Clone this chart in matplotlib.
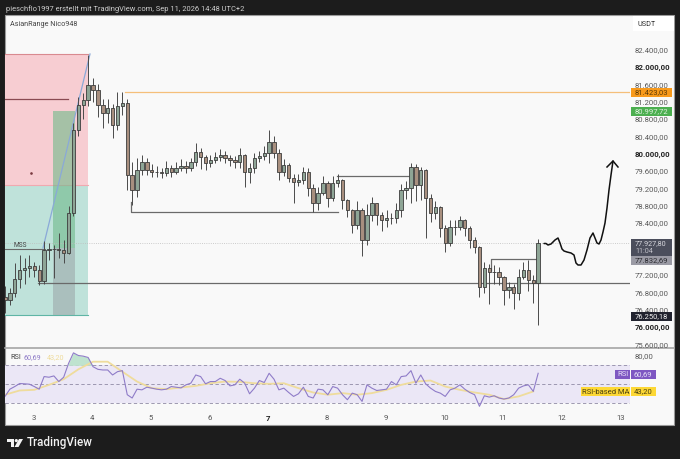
#!/usr/bin/env python3
import numpy as np
import matplotlib
matplotlib.use("Agg")
import matplotlib.pyplot as plt
from matplotlib.patches import Rectangle, Circle, Polygon

plt.rcParams['font.family'] = ['Roboto', 'DejaVu Sans']

W, H = 680, 459

# ── Data ──────────────────────────────────────────────────────
closes = [
    76620, 76780, 77110, 77310, 77360, 77410, 77310, 77060, 77780, 77800,
    77800, 77780, 77710, 78630, 80550, 81120, 81240, 81580, 81470, 81120,
    80940, 81050, 80660, 81100, 81170, 79510, 79160, 79620, 79810, 79620,
    79580, 79580, 79550, 79670, 79580, 79670, 79720, 79670, 79810, 80040,
    79920, 79780, 79850, 79920, 79970, 79900, 79850, 79810, 79970, 79580,
    79670, 79900, 79950, 80020, 80270, 80020, 79580, 79740, 79440, 79350,
    79390, 79580, 79210, 78860, 79090, 79320, 78980, 79320, 79390, 78930,
    78700, 78350, 78700, 78010, 78580, 78860, 78580, 78470, 78510, 78510,
    78700, 79160, 79210, 79690, 79280, 79620, 78980, 78630, 78770, 78280,
    77940, 78310, 78310, 78470, 78280, 78010, 77850, 76920, 77360, 77270,
    77270, 77150, 76850, 76920, 76780, 77150, 77310, 77080, 77010, 77940,
]
highs = [
    76950, 76900, 77480, 77650, 77600, 77650, 77500, 77420, 77990, 77930,
    77900, 78170, 78000, 78800, 80700, 81300, 81400, 82280, 81750, 81600,
    81250, 81260, 81150, 81420, 81430, 81260, 79800, 79900, 79980, 79900,
    79760, 79720, 79680, 79820, 79740, 79800, 79880, 79820, 79900, 80240,
    80120, 79980, 79980, 80030, 80110, 80050, 79980, 79940, 80120, 79990,
    79790, 80010, 80060, 80180, 80550, 80400, 80100, 79880, 79780, 79540,
    79520, 79700, 79660, 79290, 79230, 79480, 79380, 79480, 79540, 79420,
    78950, 78720, 78900, 78750, 78830, 78990, 78860, 78650, 78700, 78640,
    78860, 79300, 79370, 79780, 79760, 79700, 79640, 79080, 78900, 78800,
    78350, 78480, 78470, 78570, 78500, 78320, 78080, 77870, 77490, 77450,
    77420, 77380, 77180, 77040, 77000, 77330, 77490, 77550, 77200, 78020,
]
lows = [
    76320, 76500, 76700, 76900, 77000, 77150, 77150, 76960, 77000, 77550,
    77130, 77600, 77480, 77680, 78550, 80400, 80800, 81100, 81200, 80850,
    80600, 80700, 80350, 80550, 80900, 79150, 78820, 79000, 79500, 79500,
    79450, 79460, 79440, 79480, 79460, 79520, 79600, 79560, 79600, 79720,
    79640, 79620, 79700, 79780, 79820, 79780, 79720, 79680, 79680, 79230,
    79320, 79560, 79800, 79850, 79780, 79900, 79400, 79480, 79340, 78870,
    79250, 79310, 79020, 78650, 78700, 79050, 78760, 78910, 79240, 78720,
    78540, 78160, 78250, 77640, 77900, 78450, 78350, 78220, 78300, 78380,
    78400, 78540, 78950, 78850, 78900, 78920, 78050, 78420, 78500, 78080,
    77730, 77860, 78120, 78240, 78100, 77830, 77700, 76700, 76780, 76540,
    77000, 76980, 76500, 76680, 76420, 76620, 77100, 76840, 76550, 76050,
]
first_open = 76700

rsi = [
    37.0, 44.7, 47.5, 50.7, 50.4, 50.0, 47.5, 44.7, 58.1, 57.4,
    58.8, 52.8, 57.4, 72.1, 83.3, 80.5, 79.8, 78.4, 68.6, 65.8,
    65.1, 65.1, 59.8, 63.3, 64.4, 38.8, 35.3, 44.7, 44.0, 46.8,
    45.8, 44.7, 44.0, 44.7, 47.5, 46.8, 46.1, 49.3, 51.1, 59.8,
    58.1, 50.4, 52.8, 52.8, 56.3, 53.9, 48.2, 49.3, 55.3, 51.1,
    39.8, 45.8, 53.9, 51.8, 61.6, 55.3, 44.0, 45.8, 41.2, 37.0,
    39.8, 46.8, 37.0, 35.3, 44.7, 44.0, 38.8, 47.5, 45.8, 38.8,
    33.5, 40.5, 38.8, 31.7, 49.3, 45.8, 43.3, 44.0, 44.7, 52.8,
    49.3, 58.1, 58.8, 64.4, 51.1, 59.8, 50.4, 45.8, 42.3, 40.5,
    37.0, 44.0, 45.8, 49.3, 44.7, 41.2, 38.8, 26.5, 37.7, 36.3,
    37.7, 35.3, 34.2, 35.3, 38.8, 45.8, 48.2, 49.3, 42.3, 61.6,
]
# RSI-based MA, one value per 3 candles
rsi_ma = [
    38.8, 43.3, 44.0, 49.3, 55.3, 65.8, 73.9, 73.9, 63.3, 52.8,
    45.8, 44.7, 46.5, 48.2, 51.0, 52.8, 52.5, 51.0, 50.4, 51.0,
    45.8, 41.2, 38.8, 40.5, 38.8, 40.5, 44.0, 49.3, 52.8, 53.9,
    47.5, 44.0, 41.2, 38.8, 34.2, 37.0, 42.3,
]

price_ticks = list(range(75600, 82401, 400))
bold_prices = [76000, 80000, 82000]
day_ticks = [3, 4, 5, 6, 7, 8, 9, 10, 11, 12, 13]

opens = [first_open] + closes[:-1]
t = 2.514 + np.arange(len(closes)) / 12


def day_of(x):
    return 3 + (x - 33.5) / 58.7


def price_of(y):
    return 82000 - (y - 67) * 23.08


def fmt(p):
    return f"{p:,.2f}".replace(",", "X").replace(".", ",").replace("X", ".")


fig = plt.figure(figsize=(W / 100, H / 100), dpi=100, facecolor='#1c1c1c')

# ── Page in pixel coordinates (background) ────────────────────
page = fig.add_axes([0, 0, 1, 1], zorder=0)
page.set_xlim(0, W)
page.set_ylim(H, 0)
page.axis('off')
page.add_patch(Rectangle((5, 15), 669, 410, fc='#f9f9f9', ec='#9a9a9a', lw=0.8))
page.plot([5, 674], [348.3, 348.3], color='#a6a6a6', lw=1.2)

# ── Price pane ────────────────────────────────────────────────
ax = fig.add_axes([5 / W, 1 - 348 / H, 625 / W, 333 / H], zorder=2)
ax.patch.set_alpha(0)
ax.set_xlim(day_of(5), day_of(630))
ax.set_ylim(price_of(348), price_of(15))
for s in ax.spines.values():
    s.set_visible(False)
ax.set_xticks([])
ax.yaxis.tick_right()
ax.set_yticks(price_ticks)
ax.set_yticklabels([fmt(p) for p in price_ticks], fontsize=5.6, color='#5a5a5a')
for lab, p in zip(ax.get_yticklabels(), price_ticks):
    if p in bold_prices:
        lab.set_fontweight('bold')
        lab.set_color('#222222')
ax.tick_params(axis='y', length=0, pad=3.6)

# Risk / reward boxes
d0, d1 = day_of(5), day_of(88)
ax.add_patch(Rectangle((d0, 79280), d1 - d0, 82300 - 79280, fc='#f7cdd2', ec='none', zorder=1))
ax.add_patch(Rectangle((d0, 76280), d1 - d0, 79280 - 76280, fc='#bfe2da', ec='none', zorder=1))
ax.plot([d0, d1], [82300, 82300], color='#d98a90', lw=0.8, zorder=2)
ax.plot([d0, d1], [79280, 79280], color='#f0a9b0', lw=0.8, zorder=2)
ax.plot([d0, d1], [76280, 76280], color='#5fb5a5', lw=0.8, zorder=2)

# Date range boxes
d2, d3 = day_of(53), day_of(75)
ax.add_patch(Rectangle((d2, price_of(248)), d3 - d2, price_of(111) - price_of(248),
                       fc='#6fb98a', ec='none', alpha=0.6, zorder=2))
ax.add_patch(Rectangle((d2, 76280), d3 - d2, price_of(248) - 76280,
                       fc='#8f8f96', ec='none', alpha=0.42, zorder=2))

# Level lines
ax.plot([day_of(5), day_of(630)], [77930, 77930], color='#bdbdbd', lw=0.6, ls=':', zorder=2)
ax.plot([day_of(125), day_of(630)], [81423, 81423], color='#f5bf7a', lw=0.9, zorder=3)
line_col = '#6a6a6a'
ax.plot([day_of(5), day_of(45)], [price_of(249)] * 2, color=line_col, lw=0.8, zorder=3)
ax.plot([day_of(38), day_of(630)], [77015, 77015], color=line_col, lw=0.9, zorder=3)
ax.plot([day_of(131), day_of(131), day_of(338)],
        [price_of(202), 78650, 78650], color=line_col, lw=0.9, zorder=3)
ax.plot([day_of(337), day_of(410)], [79480, 79480], color=line_col, lw=0.9, zorder=3)
ax.plot([day_of(491), day_of(491), day_of(537)],
        [price_of(270), 77570, 77570], color=line_col, lw=0.9, zorder=3)
ax.plot([day_of(5), day_of(68)], [81260, 81260], color='#8a4a52', lw=0.9, zorder=3)
ax.plot([day_of(31)], [price_of(173)], marker='o', ms=0.9, color='#7a3a40', zorder=3)
ax.text(day_of(14), price_of(245), 'MSS', fontsize=4.8, color='#444444', va='center', zorder=6)
ax.plot([day_of(43), day_of(90)], [price_of(248), price_of(54)], color='#8aa9d8', lw=0.9, zorder=3)

# Candles
ax.vlines(t, lows, highs, color='#4a4a4a', lw=0.7, zorder=4)
body_col = ['#8ea596' if c >= o else '#a88f7f' for o, c in zip(opens, closes)]
ax.bar(t, np.array(closes) - np.array(opens), bottom=opens, width=0.058,
       color=body_col, edgecolor='#3c3c3c', linewidth=0.6, zorder=5)

# Hand drawn forecast
sx = [544, 546, 548, 551, 555, 558, 560, 562, 564, 567, 571, 574, 576, 578, 581, 584,
      587, 590, 593, 595, 597, 599, 601, 603, 605, 607, 609, 611, 613]
sy = [243.5, 243.5, 245, 244, 240, 238, 243, 249, 251, 252, 253, 255, 263, 265, 265, 260,
      250, 238, 233, 238, 243, 244, 240, 232, 223, 208, 190, 175, 161]
ax.plot([day_of(x) for x in sx], [price_of(y) for y in sy], color='#111111', lw=1.1,
        solid_capstyle='round', solid_joinstyle='round', zorder=6)
ax.plot([day_of(x) for x in (607, 613, 618)], [price_of(y) for y in (167, 161, 167)],
        color='#111111', lw=1.1, zorder=6)

# ── RSI pane ──────────────────────────────────────────────────
ax2 = fig.add_axes([5 / W, 1 - 408 / H, 625 / W, 59 / H], zorder=2)
ax2.patch.set_alpha(0)
ax2.set_xlim(day_of(5), day_of(630))
ax2.set_ylim(24.7, 87.4)
for s in ax2.spines.values():
    s.set_visible(False)
ax2.axhspan(30, 70, color='#ebe7f6', lw=0, zorder=1)
for lvl in (30, 50, 70):
    ax2.axhline(lvl, color='#8f8aa5', lw=0.6, ls=(0, (4, 3)), zorder=2)
rsi_arr = np.array(rsi)
ax2.fill_between(t, 70, rsi_arr, where=rsi_arr > 70, interpolate=True, color='#bfe3cf', lw=0, zorder=2)
ax2.plot(t[::3], rsi_ma, color='#efdc9c', lw=1.3, zorder=3)
ax2.plot(t, rsi, color='#8f7cc8', lw=0.8, zorder=4)
ax2.set_xticks(day_ticks)
ax2.set_xticklabels([str(d) for d in day_ticks], fontsize=5.6, color='#555555')
ax2.get_xticklabels()[day_ticks.index(7)].set_fontweight('bold')
ax2.get_xticklabels()[day_ticks.index(7)].set_color('#222222')
ax2.tick_params(axis='x', length=0, pad=5)
ax2.set_yticks([])

# ── Overlay: header, tags, logo ───────────────────────────────
top = fig.add_axes([0, 0, 1, 1], zorder=5)
top.set_xlim(0, W)
top.set_ylim(H, 0)
top.axis('off')
top.patch.set_alpha(0)

top.text(6, 9, 'pieschflo1997 erstellt mit TradingView.com, Sep 11, 2026 14:48 UTC+2',
         fontsize=5.4, color='#cfcfcf', va='center')
top.text(10, 24, 'AsianRange Nico948', fontsize=5.2, color='#444444', va='center')
top.add_patch(Rectangle((633, 15.5), 40.5, 15.5, fc='white', ec='none'))
top.text(637, 24.5, 'USDT', fontsize=5.2, color='#333333', va='center')


def tag(x0, x1, y0, y1, color, label, tc, ha='left', weight='normal'):
    top.add_patch(Rectangle((x0, y0), x1 - x0, y1 - y0, fc=color, ec='none'))
    top.text(x0 + 4 if ha == 'left' else (x0 + x1) / 2, (y0 + y1) / 2, label, fontsize=5.5,
             color=tc, va='center', ha=ha, fontweight=weight)


tag(631, 672, 88, 97, '#f89a1c', '81.423,03', '#5b3a08')
tag(631, 672, 107, 116, '#4caf50', '80.997,72', '#dff2df')
tag(631, 672, 239, 256, '#4b4e5c', '', '#d8d8de')
top.text(635, 243.3, '77.927,80', fontsize=5.2, color='#d8d8de', va='center')
top.text(635, 251.7, '11:04', fontsize=5.2, color='#c0c0c8', va='center')
tag(631, 672, 256, 265, '#9a9aa4', '77.832,69', '#2a2a30')
tag(631, 672, 312, 321, '#20222e', '76.250,18', '#f2f2f2')

top.text(635, 356, '80,00', fontsize=5.6, color='#5a5a5a', va='center')
tag(615, 630, 370, 379, '#7e57c2', 'RSI', '#e6dff6', ha='center')
tag(630.5, 656, 370, 379, '#7e57c2', '60,69', '#e6dff6', ha='center')
tag(581, 630, 387, 396, '#fdd835', 'RSI-based MA', '#4a4010', ha='center')
tag(630.5, 656, 387, 396, '#fdd835', '43,20', '#4a4010', ha='center')

top.text(10, 357.5, 'RSI', fontsize=5.2, color='#444444', va='center')
top.text(24, 357.5, '60,69', fontsize=5.2, color='#8f7cc8', va='center')
top.text(46.5, 357.5, '43,20', fontsize=5.2, color='#efdc9c', va='center')

# TradingView logo
top.add_patch(Polygon([(7, 439), (14, 439), (14, 447), (10.5, 447), (10.5, 442), (7, 442)],
                      fc='#f2f2f2', ec='none'))
top.add_patch(Circle((16.3, 440.6), 1.6, fc='#f2f2f2', ec='none'))
top.add_patch(Polygon([(14.5, 447), (19, 439), (23, 439), (18.5, 447)], fc='#f2f2f2', ec='none'))
top.text(27, 442.5, 'TradingView', fontsize=8.4, color='#f2f2f2', va='center', fontweight='medium')

fig.savefig('out.png', dpi=100, facecolor=fig.get_facecolor())
plt.close(fig)
